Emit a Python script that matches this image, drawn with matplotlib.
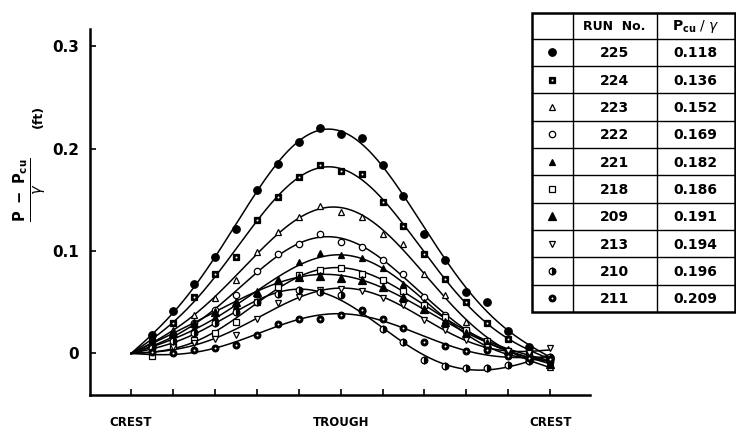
import numpy as np
import matplotlib.pyplot as plt

# run numbers and P_cu / gamma listed in the table
runs = ['225', '224', '223', '222', '221', '218', '209', '213', '210', '211']
pcu_gamma = ['0.118', '0.136', '0.152', '0.169', '0.182', '0.186', '0.191', '0.194', '0.196', '0.209']

# measuring stations: 0 = crest, 5 = trough, 10 = next crest
stations = np.arange(0.5, 10.01, 0.5)

# (P - P_cu) / gamma in ft at each station
head_225 = [0.018, 0.041, 0.068, 0.094, 0.121, 0.160, 0.185, 0.206, 0.220, 0.214,
            0.210, 0.184, 0.154, 0.117, 0.091, 0.060, 0.050, 0.022, 0.006, -0.004]
head_224 = [0.012, 0.030, 0.055, 0.078, 0.094, 0.130, 0.153, 0.172, 0.184, 0.178,
            0.175, 0.148, 0.124, 0.097, 0.073, 0.050, 0.030, 0.014, 0.002, -0.005]
head_223 = [0.012, 0.023, 0.038, 0.054, 0.072, 0.099, 0.119, 0.133, 0.144, 0.138,
            0.133, 0.117, 0.107, 0.078, 0.057, 0.031, 0.013, 0.002, -0.006, -0.013]
head_222 = [0.008, 0.018, 0.030, 0.042, 0.057, 0.080, 0.097, 0.107, 0.117, 0.109,
            0.104, 0.091, 0.078, 0.055, 0.038, 0.023, 0.011, 0.002, -0.004, -0.008]
head_221 = [0.007, 0.015, 0.025, 0.036, 0.046, 0.058, 0.070, 0.089, 0.098, 0.096,
            0.093, 0.083, 0.068, 0.050, 0.033, 0.020, 0.008, 0.000, -0.005, -0.008]
head_218 = [-0.002, 0.007, 0.013, 0.020, 0.031, 0.050, 0.065, 0.077, 0.081, 0.083,
            0.078, 0.072, 0.061, 0.047, 0.036, 0.023, 0.012, 0.002, -0.003, -0.005]
head_209 = [0.010, 0.020, 0.030, 0.040, 0.050, 0.060, 0.072, 0.075, 0.076, 0.074,
            0.072, 0.065, 0.055, 0.043, 0.031, 0.020, 0.010, 0.003, -0.004, -0.010]
head_213 = [0.002, 0.006, 0.010, 0.014, 0.018, 0.034, 0.049, 0.055, 0.062, 0.063,
            0.061, 0.054, 0.047, 0.033, 0.023, 0.013, 0.006, 0.002, 0.000, 0.005]
head_210 = [0.005, 0.012, 0.020, 0.030, 0.040, 0.050, 0.058, 0.062, 0.060, 0.057,
            0.041, 0.024, 0.011, -0.006, -0.012, -0.0145, -0.0145, -0.011, -0.007, -0.003]
head_211 = [0.001, 0.000, 0.003, 0.005, 0.008, 0.018, 0.029, 0.034, 0.034, 0.038,
            0.042, 0.034, 0.025, 0.011, 0.007, 0.002, 0.003, -0.002, -0.004, -0.005]

heads = [head_225, head_224, head_223, head_222, head_221,
         head_218, head_209, head_213, head_210, head_211]

styles = {
    '225': dict(marker='o', ms=5.4, mfc='k'),
    '224': dict(marker='s', ms=4.6, mfc='k'),
    '223': dict(marker='^', ms=4.8, mfc='w'),
    '222': dict(marker='o', ms=4.6, mfc='w'),
    '221': dict(marker='^', ms=4.2, mfc='k'),
    '218': dict(marker='s', ms=4.4, mfc='w'),
    '209': dict(marker='^', ms=5.4, mfc='k'),
    '213': dict(marker='v', ms=4.8, mfc='w'),
    '210': dict(marker='o', ms=4.8, mfc='k', fillstyle='right', markerfacecoloralt='w'),
    '211': dict(marker='o', ms=4.8, mfc='k'),
}
dotted = {'224', '211'}   # markers with a small white centre


def draw_marker(axis, x, y, run, **kw):
    st = dict(styles[run])
    axis.plot(x, y, ls='none', mec='k', mew=0.9, **st, **kw)
    if run in dotted:
        axis.plot(x, y, ls='none', marker='o', ms=1.4, mfc='w', mec='w', mew=0, **kw)


def smooth_curve(x, y):
    # least-squares wave through the crest (0, 0)
    xs = np.concatenate([[0.0], x])
    ys = np.concatenate([[0.0], y])

    def basis(t):
        cols = [np.sin(k * np.pi * t / 10) for k in range(1, 5)]
        cols.append(t / 10)
        return np.column_stack(cols)

    coef, *_ = np.linalg.lstsq(basis(xs), ys, rcond=None)
    xf = np.linspace(0, 10, 300)
    return xf, basis(xf) @ coef


plt.rcParams['font.family'] = 'DejaVu Sans'
plt.rcParams['mathtext.fontset'] = 'dejavusans'

fig = plt.figure(figsize=(7.36, 4.34), dpi=100)
ax = fig.add_axes([90 / 736, 39 / 434, 500 / 736, 366 / 434])

for run, h in zip(runs, heads):
    xf, yf = smooth_curve(stations, np.array(h))
    ax.plot(xf, yf, color='k', lw=1.1, zorder=2)
    draw_marker(ax, stations, h, run, zorder=3)

ax.set_xlim(-0.98, 10.95)
ax.set_ylim(-0.0405, 0.3166)
ax.spines['top'].set_visible(False)
ax.spines['right'].set_visible(False)
ax.spines['left'].set_linewidth(1.8)
ax.spines['bottom'].set_linewidth(1.8)

ax.set_yticks([0, 0.1, 0.2, 0.3])
ax.set_yticklabels(['0', '0.1', '0.2', '0.3'], fontweight='bold', fontsize=11)
ax.set_xticks(np.arange(0, 11))
xlabels = [''] * 11
xlabels[0], xlabels[5], xlabels[10] = 'CREST', 'TROUGH', 'CREST'
ax.set_xticklabels(xlabels, fontweight='bold', fontsize=8.5)
ax.tick_params(axis='both', direction='in', length=4.5, width=1.2)
ax.tick_params(axis='y', pad=8)
ax.tick_params(axis='x', pad=15)

# overlay in pixel units for the axis title and the run table
ov = fig.add_axes([0, 0, 1, 1], zorder=5)
ov.set_xlim(0, 736)
ov.set_ylim(434, 0)
ov.axis('off')

ov.text(30, 190, r'$\frac{\mathbf{P\ -\ P_{cu}}}{\gamma}$', rotation=90, fontsize=15,
        ha='center', va='center')
ov.text(38, 116, '(ft)', rotation=90, fontsize=9, fontweight='bold',
        ha='center', va='center')

col_x = [531.5, 572.5, 656.5, 735]
top, head_bottom, row_h = 13, 38.5, 27.35
n = len(runs)
bottom = head_bottom + n * row_h

ov.add_patch(plt.Rectangle((col_x[0], top), col_x[-1] - col_x[0], bottom - top,
                           fc='w', ec='k', lw=1.8))
for cx in col_x[1:-1]:
    ov.plot([cx, cx], [top, bottom], color='k', lw=1.0)
for i in range(n):
    yy = head_bottom + i * row_h
    ov.plot([col_x[0], col_x[-1]], [yy, yy], color='k', lw=1.0)

ov.text((col_x[1] + col_x[2]) / 2, (top + head_bottom) / 2 + 1, 'RUN  No.',
        fontsize=9, fontweight='bold', ha='center', va='center')
ov.text((col_x[2] + col_x[3]) / 2, (top + head_bottom) / 2 + 1,
        r'$\mathbf{P_{cu}}$ / $\gamma$', fontsize=10, ha='center', va='center')

for i, (run, val) in enumerate(zip(runs, pcu_gamma)):
    yc = head_bottom + (i + 0.5) * row_h
    draw_marker(ov, [(col_x[0] + col_x[1]) / 2], [yc], run)
    ov.text((col_x[1] + col_x[2]) / 2, yc + 1, run, fontsize=10, fontweight='bold',
            ha='center', va='center')
    ov.text((col_x[2] + col_x[3]) / 2, yc + 1, val, fontsize=10, fontweight='bold',
            ha='center', va='center')

fig.savefig('out.png', dpi=100)
